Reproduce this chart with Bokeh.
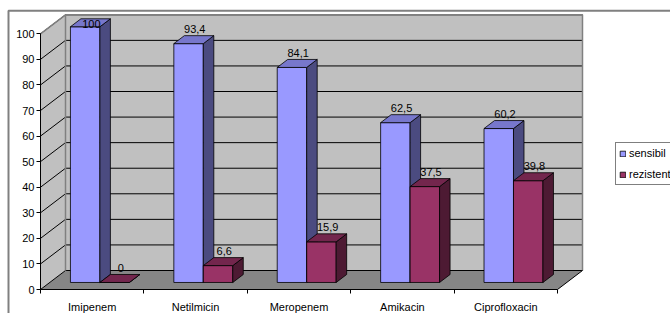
import numpy as np
from bokeh.plotting import figure
from bokeh.models import Range1d, LinearAxis, FixedTicker, Legend, LegendItem
from bokeh.core.properties import value
from bokeh.embed import file_html
from bokeh.resources import INLINE

# ---------------- data ----------------
categories = ["Imipenem", "Netilmicin", "Meropenem", "Amikacin", "Ciprofloxacin"]
sensibil = [100, 93.4, 84.1, 62.5, 60.2]
rezistent = [0, 6.6, 15.9, 37.5, 39.8]
series_names = ["sensibil", "rezistent"]
y_ticks = list(range(0, 101, 10))

# ---------------- layout / style ----------------
W, H = 670, 313
ORX, ORY = 40, 289          # pixel position of data origin inside the figure (from top-left)
SX, SY = 103.4, 2.557        # pixels per category / per value unit
DX, DY = 25 / SX, 19 / SY    # depth of the 3-D box, in data units
F0, FB = 0.37, 0.42          # bar depth start and bar depth, as fraction of box depth
GAP, BW = 0.20, 0.285        # gap before first bar, bar width (category units)
FONT = "Liberation Sans"

front_cols = ["#9999FF", "#993366"]
side_cols = ["#4B4B80", "#4D1A33"]
top_cols = ["#7777CC", "#73264D"]

n = len(categories)
YMAX = y_ticks[-1]

p = figure(width=W, height=H, output_backend="svg", toolbar_location=None,
           x_range=Range1d(-ORX / SX, (W - ORX) / SX),
           y_range=Range1d(-(H - ORY) / SY, ORY / SY),
           x_axis_location=None, y_axis_location=None,
           min_border=0, min_border_left=0, min_border_right=0,
           min_border_top=0, min_border_bottom=0,
           outline_line_color=None, background_fill_color="white",
           border_fill_color="white")
p.grid.visible = False

# ---------------- walls & floor ----------------
p.patch([0, DX, DX, 0], [0, DY, YMAX + DY, YMAX], fill_color="#C0C0C0", line_color=None)
p.patch([DX, n + DX, n + DX, DX], [DY, DY, YMAX + DY, YMAX + DY],
        fill_color="#C0C0C0", line_color=None)
p.patch([0, n, n + DX, DX], [0, 0, DY, DY], fill_color="#868686", line_color=None)

gt = np.array(y_ticks, dtype=float)
p.segment(x0=[DX] * len(gt), y0=gt + DY, x1=[n + DX] * len(gt), y1=gt + DY,
          line_color="black", line_width=1)
p.segment(x0=[0] * len(gt), y0=gt, x1=[DX] * len(gt), y1=gt + DY,
          line_color="black", line_width=1)
# wall borders
p.line([DX, DX, n + DX, n + DX], [DY, YMAX + DY, YMAX + DY, DY], line_color="#808080", line_width=1.5)
p.line([0, DX], [YMAX, YMAX + DY], line_color="#808080", line_width=1.5)
# floor right edge
p.line([n, n + DX], [0, DY], line_color="black", line_width=1)

# ---------------- bars ----------------
bdx, bdy = FB * DX, FB * DY
front_renderers = []
for s, vals in enumerate([sensibil, rezistent]):
    v = np.array(vals, dtype=float)
    left = np.arange(n) + GAP + s * BW + F0 * DX
    right = left + BW
    bot = np.full(n, F0 * DY)
    top = v + F0 * DY
    fxs = [[l, r, r, l] for l, r in zip(left, right)]
    fys = [[b, b, t, t] for b, t in zip(bot, top)]
    sxs = [[r, r + bdx, r + bdx, r] for r in right]
    sys_ = [[b, b + bdy, t + bdy, t] for b, t in zip(bot, top)]
    txs = [[l, r, r + bdx, l + bdx] for l, r in zip(left, right)]
    tys = [[t, t, t + bdy, t + bdy] for t in top]
    fr = p.patches(fxs, fys, fill_color=front_cols[s], line_color="black", line_width=0.8)
    p.patches(sxs, sys_, fill_color=side_cols[s], line_color="black", line_width=0.8)
    p.patches(txs, tys, fill_color=top_cols[s], line_color="black", line_width=0.8)
    front_renderers.append(fr)
    labels = [f"{x:g}".replace(".", ",") for x in v]
    lx = (left + right) / 2 + 0.06
    ly = np.minimum(v + 8.5, YMAX + 4)
    p.text(lx, ly, text=labels, text_align="center", text_baseline="middle",
           text_font=value(FONT), text_font_size="11px", text_color="black")

# ---------------- axes ----------------
yaxis = LinearAxis(fixed_location=0, bounds=(0, YMAX),
                   ticker=FixedTicker(ticks=y_ticks, minor_ticks=[]),
                   major_tick_out=4, major_tick_in=0, minor_tick_out=0, minor_tick_in=0,
                   major_label_standoff=2, major_label_text_font=FONT,
                   major_label_text_font_size="11px", major_label_text_color="black",
                   axis_line_color="black", major_tick_line_color="black")
p.add_layout(yaxis, "left")

centers = [i + 0.5 for i in range(n)]
xaxis = LinearAxis(fixed_location=0, bounds=(0, n),
                   ticker=FixedTicker(ticks=centers, minor_ticks=list(range(n + 1))),
                   major_tick_out=0, major_tick_in=0, minor_tick_out=4, minor_tick_in=0,
                   major_label_overrides={c: name for c, name in zip(centers, categories)},
                   major_label_standoff=7, major_label_text_font=FONT,
                   major_label_text_font_size="11px", major_label_text_color="black",
                   axis_line_color="black", minor_tick_line_color="black",
                   major_tick_line_color=None)
p.add_layout(xaxis, "below")

# ---------------- chart border ----------------
bx = (8 - ORX) / SX
by = (ORY - 10.2) / SY
p.line([bx, bx, (W - ORX) / SX], [-(H - ORY) / SY, by, by], line_color="#808080", line_width=2)

# ---------------- legend ----------------
legend = Legend(items=[LegendItem(label=series_names[i], renderers=[front_renderers[i]])
                       for i in range(2)],
                location=(615, H - 185), orientation="vertical",
                glyph_width=7, glyph_height=7, label_height=14, label_standoff=3,
                spacing=7, padding=3, margin=0,
                border_line_color="black", border_line_width=1,
                background_fill_color="white", background_fill_alpha=1,
                label_text_font=FONT, label_text_font_size="11px",
                label_text_color="black")
p.add_layout(legend)

open("out.html", "w").write(file_html(p, INLINE))
